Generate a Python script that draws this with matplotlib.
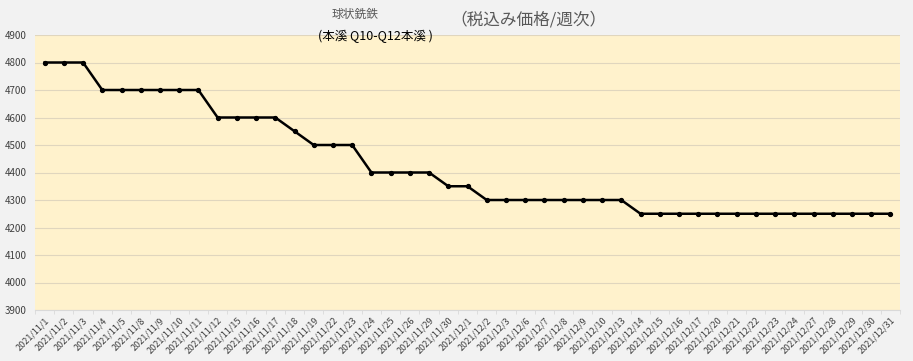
import matplotlib.pyplot as plt

plt.rcParams['font.family'] = ['Noto Sans CJK JP', 'DejaVu Sans']

dates = ["2021/11/1", "2021/11/2", "2021/11/3", "2021/11/4", "2021/11/5",
         "2021/11/8", "2021/11/9", "2021/11/10", "2021/11/11", "2021/11/12",
         "2021/11/15", "2021/11/16", "2021/11/17", "2021/11/18", "2021/11/19",
         "2021/11/22", "2021/11/23", "2021/11/24", "2021/11/25", "2021/11/26",
         "2021/11/29", "2021/11/30",
         "2021/12/1", "2021/12/2", "2021/12/3", "2021/12/6", "2021/12/7",
         "2021/12/8", "2021/12/9", "2021/12/10", "2021/12/13", "2021/12/14",
         "2021/12/15", "2021/12/16", "2021/12/17", "2021/12/20", "2021/12/21",
         "2021/12/22", "2021/12/23", "2021/12/24", "2021/12/27", "2021/12/28",
         "2021/12/29", "2021/12/30", "2021/12/31"]
prices = [4800, 4800, 4800, 4700, 4700,
          4700, 4700, 4700, 4700, 4600,
          4600, 4600, 4600, 4550, 4500,
          4500, 4500, 4400, 4400, 4400,
          4400, 4350,
          4350, 4300, 4300, 4300, 4300,
          4300, 4300, 4300, 4300, 4250,
          4250, 4250, 4250, 4250, 4250,
          4250, 4250, 4250, 4250, 4250,
          4250, 4250, 4250]
yticks = list(range(3900, 5000, 100))

fig = plt.figure(figsize=(9.13, 3.61), dpi=100, facecolor="#F2F2F2")
ax = fig.add_axes([35 / 913, 1 - 310 / 361, 865 / 913, 275 / 361])
ax.set_facecolor("#FFF2CC")

x = list(range(len(dates)))
ax.plot(x, prices, color="black", lw=1.8, marker="o", ms=2.8, zorder=3)

ax.set_xlim(-0.5, len(dates) - 0.5)
ax.set_ylim(3900, 4900)
ax.set_yticks(yticks)
ax.set_yticklabels([str(v) for v in yticks], fontsize=7, color="#404040")
ax.grid(axis="y", color="#E0D6BE", lw=0.8)
ax.set_axisbelow(True)

ax.set_xticks(x)
ax.set_xticklabels(dates, rotation=45, ha="right", rotation_mode="anchor",
                   fontsize=6.5, color="#404040")
ax.set_xticks([i - 0.5 for i in range(len(dates) + 1)], minor=True)
ax.tick_params(axis="x", which="major", length=0, pad=4)
ax.tick_params(axis="x", which="minor", length=3, color="#D9D9D9")
ax.tick_params(axis="y", length=0, pad=6)

for s in ["top", "right", "left"]:
    ax.spines[s].set_visible(False)
ax.spines["bottom"].set_color("#D9D9D9")

fig.text(355 / 913, 1 - 14 / 361, "球状銑鉄", ha="center", va="center",
         fontsize=8.5, color="#595959")
fig.text(375 / 913, 1 - 36 / 361, "(本溪 Q10-Q12本溪 )", ha="center",
         va="center", fontsize=9, color="black")
fig.text(528 / 913, 1 - 20 / 361, "（税込み価格/週次）", ha="center",
         va="center", fontsize=12, color="#595959")

fig.savefig("out.png", dpi=100, facecolor=fig.get_facecolor())
